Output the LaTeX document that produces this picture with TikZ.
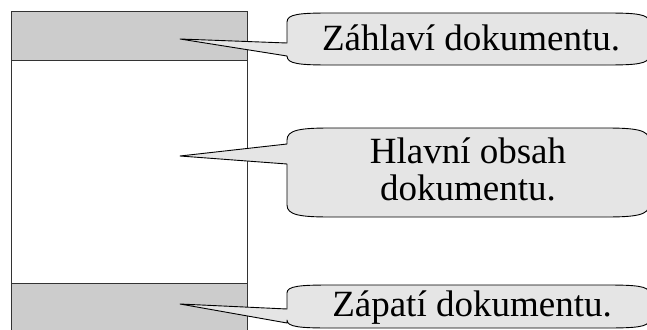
\documentclass[tikz,border=0pt]{standalone}
\usepackage{fontspec}
\setmainfont{Liberation Serif}
\tikzset{
  band/.style={draw=black!80, line width=0.9pt, fill=black!20},
  pagebody/.style={draw=black!80, line width=0.9pt, fill=white},
  bubble/.style={draw=black, line width=0.9pt, fill=black!10, line join=round},
  label/.style={font=\fontsize{37}{37}\selectfont, inner sep=0pt, align=center},
}
\begin{document}
\begin{tikzpicture}[x=1pt,y=-1pt]
\useasboundingbox (0,0) rectangle (647,329);
\begin{scope}
\clip (0,0) rectangle (647,329);
\draw[pagebody] (11,11) rectangle (247,345);
\node[band, minimum width=236pt, minimum height=49pt, inner sep=0pt, anchor=north west] (header) at (11,11) {};
\node[band, minimum width=236pt, minimum height=60pt, inner sep=0pt, anchor=north west] (footer) at (11,283) {};
\coordinate (tipA) at (180,39);
\coordinate (tipB) at (180,156);
\coordinate (tipC) at (180,304);
% callout 1
\draw[bubble] (tipA) -- (287,43) -- (287,22) .. controls (287,14) and (300,13) .. (330,13)
  -- (606,13) .. controls (636,13) and (649,14) .. (649,22) -- (649,56)
  .. controls (649,64) and (636,65) .. (606,65) -- (330,65)
  .. controls (300,65) and (287,64) .. (287,56) -- cycle;
% callout 2
\draw[bubble] (tipB) -- (287,144) -- (287,140) .. controls (287,130) and (300,128) .. (330,128)
  -- (606,128) .. controls (636,128) and (649,130) .. (649,140) -- (649,205)
  .. controls (649,215) and (636,217) .. (606,217) -- (330,217)
  .. controls (300,217) and (287,215) .. (287,205) -- (287,164) -- cycle;
% callout 3
\draw[bubble] (tipC) -- (287,309) -- (287,293) .. controls (287,286) and (300,285) .. (330,285)
  -- (606,285) .. controls (636,285) and (649,286) .. (649,293) -- (649,320)
  .. controls (649,327) and (636,328) .. (606,328) -- (330,328)
  .. controls (300,328) and (287,327) .. (287,320) -- (287,323) -- cycle;
\end{scope}
\node[label, anchor=base] (tA) at (471,51) {Záhlaví dokumentu.};
\node[label, anchor=base] (tB1) at (468,163) {Hlavní obsah};
\node[label, anchor=base] (tB2) at (468,200) {dokumentu.};
\node[label, anchor=base] (tC) at (472,316) {Zápatí dokumentu.};
\end{tikzpicture}
\end{document}
